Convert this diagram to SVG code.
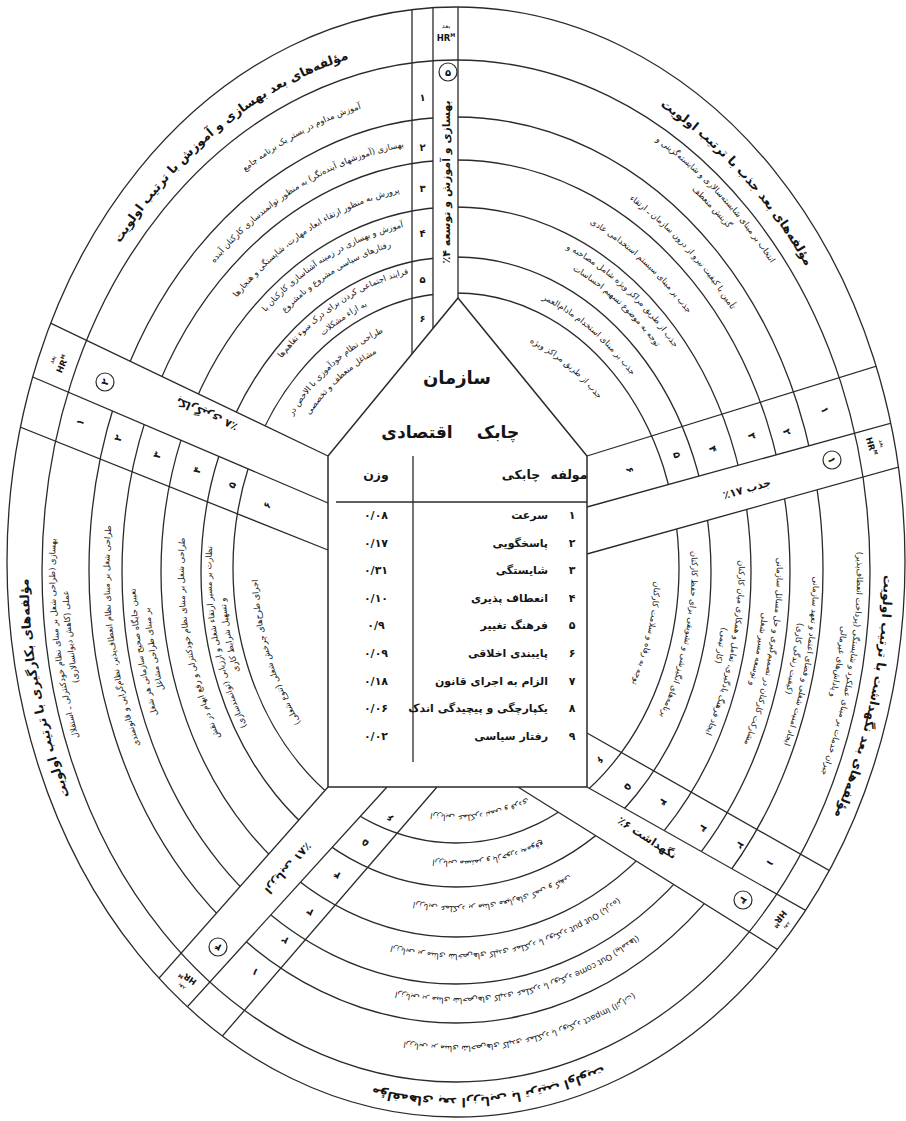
<svg xmlns="http://www.w3.org/2000/svg" width="906" height="1121" viewBox="0 0 906 1121">
<style>
.ring{fill:none;stroke:#2a2a2a;stroke-width:1.3}
.ln{fill:none;stroke:#2a2a2a;stroke-width:1.3}
.wo{fill:#fff;stroke:none}
.fa{font-family:'DejaVu Sans',sans-serif;fill:#151515}
.ttl{font-size:12.5px;font-weight:bold;text-anchor:middle;direction:rtl}
.it{font-size:8.3px;text-anchor:middle;direction:rtl}
.num{font-size:10px;font-weight:bold;text-anchor:middle;dominant-baseline:central}
.dim{font-size:11px;font-weight:bold;text-anchor:middle;dominant-baseline:central;direction:rtl}
.tb{font-size:11px;font-weight:bold}
.cir{fill:#fff;stroke:#2a2a2a;stroke-width:1.2}
.hr1{font-size:6.5px;text-anchor:middle}
.hr2{font-family:'DejaVu Sans',sans-serif;font-size:8.5px;font-weight:bold;text-anchor:middle;fill:#151515}
</style>
<defs>
<clipPath id="clipA"><ellipse cx="456" cy="562" rx="449" ry="555"/></clipPath>
<path id="p528" d="M456,42 A427.68,528 0 1 1 456,1098 A427.68,528 0 1 1 456,42"/>
<path id="p495" d="M456,75 A400.95,495 0 1 1 456,1065 A400.95,495 0 1 1 456,75"/>
<path id="p479" d="M456,91 A387.99,479 0 1 1 456,1049 A387.99,479 0 1 1 456,91"/>
<path id="p476" d="M456,94 A385.56,476 0 1 1 456,1046 A385.56,476 0 1 1 456,94"/>
<path id="p441" d="M456,129 A357.21,441 0 1 1 456,1011 A357.21,441 0 1 1 456,129"/>
<path id="p428" d="M456,142 A346.68,428 0 1 1 456,998 A346.68,428 0 1 1 456,142"/>
<path id="p425" d="M456,145 A344.25,425 0 1 1 456,995 A344.25,425 0 1 1 456,145"/>
<path id="p396" d="M456,174 A320.76,396 0 1 1 456,966 A320.76,396 0 1 1 456,174"/>
<path id="p384" d="M456,186 A311.04,384 0 1 1 456,954 A311.04,384 0 1 1 456,186"/>
<path id="p380" d="M456,190 A307.8,380 0 1 1 456,950 A307.8,380 0 1 1 456,190"/>
<path id="p349" d="M456,221 A282.69,349 0 1 1 456,919 A282.69,349 0 1 1 456,221"/>
<path id="p336" d="M456,234 A272.16,336 0 1 1 456,906 A272.16,336 0 1 1 456,234"/>
<path id="p333" d="M456,237 A269.73,333 0 1 1 456,903 A269.73,333 0 1 1 456,237"/>
<path id="p302" d="M456,268 A244.62,302 0 1 1 456,872 A244.62,302 0 1 1 456,268"/>
<path id="p291" d="M456,279 A235.71,291 0 1 1 456,861 A235.71,291 0 1 1 456,279"/>
<path id="p286" d="M456,284 A231.66,286 0 1 1 456,856 A231.66,286 0 1 1 456,284"/>
<path id="p254" d="M456,316 A205.74,254 0 1 1 456,824 A205.74,254 0 1 1 456,316"/>
<path id="p245" d="M456,325 A198.45,245 0 1 1 456,815 A198.45,245 0 1 1 456,325"/>
<path id="p238" d="M456,332 A192.78,238 0 1 1 456,808 A192.78,238 0 1 1 456,332"/>
</defs>
<rect width="906" height="1121" fill="#fff"/>

<g id="inner-rings">
<ellipse class="ring" cx="456" cy="570" rx="367" ry="453"/>
<ellipse class="ring" cx="456" cy="572" rx="334" ry="412"/>
<ellipse class="ring" cx="456" cy="572" rx="295" ry="365"/>
<ellipse class="ring" cx="456" cy="572" rx="255" ry="315"/>
<ellipse class="ring" cx="456" cy="568" rx="223" ry="275"/>
</g>
<g id="dimension-columns">
<polygon class="wo" points="433,0 458,0 458,298 433,328"/>
<polygon class="wo" points="328,456 0,299 0,363 328,503"/>
<polygon class="wo" points="587,507 906,419 906,465 587,554"/>
<polygon class="wo" points="587,787 906,967 906,1030 518,787"/>
<polygon class="wo" points="328,787 0,1158 0,1213 387,787"/>
</g>
<g id="outer-rings">
<ellipse class="ring" cx="456" cy="562" rx="449" ry="555"/>
<ellipse class="ring" cx="456" cy="571" rx="414" ry="511"/>
</g>
<g id="connectors" clip-path="url(#clipA)">
<line class="ln" x1="412" y1="0" x2="412" y2="354"/>
<line class="ln" x1="433" y1="0" x2="433" y2="328"/>
<line class="ln" x1="458" y1="0" x2="458" y2="298"/>
<line class="ln" x1="328" y1="456" x2="0" y2="299"/>
<line class="ln" x1="328" y1="503" x2="0" y2="363"/>
<line class="ln" x1="328" y1="550" x2="0" y2="419"/>
<line class="ln" x1="587" y1="456" x2="906" y2="357"/>
<line class="ln" x1="587" y1="507" x2="906" y2="419"/>
<line class="ln" x1="587" y1="554" x2="906" y2="465"/>
<line class="ln" x1="587" y1="733" x2="906" y2="914"/>
<line class="ln" x1="587" y1="787" x2="906" y2="967"/>
<line class="ln" x1="518" y1="787" x2="906" y2="1030"/>
<line class="ln" x1="328" y1="787" x2="0" y2="1158"/>
<line class="ln" x1="387" y1="787" x2="0" y2="1213"/>
<line class="ln" x1="437" y1="787" x2="0" y2="1294"/>
</g>

<g id="center-node">
<polygon points="458,298 587,456 587,787 328,787 328,456" fill="#fff" stroke="#2a2a2a" stroke-width="1.5"/>
<line class="ln" x1="336" y1="502" x2="587" y2="502" stroke="#555"/>
<line class="ln" x1="413" y1="456" x2="413" y2="762" stroke="#555"/>
<text class="fa" x="457" y="384" font-size="18" font-weight="bold" text-anchor="middle">سازمان</text>
<text class="fa" x="498" y="438" font-size="17" font-weight="bold" text-anchor="middle">چابک</text>
<text class="fa" x="417" y="438" font-size="17" font-weight="bold" text-anchor="middle">اقتصادی</text>
<text class="fa" x="376" y="479" font-size="12.5" font-weight="bold" text-anchor="middle">وزن</text>
<text class="fa" x="521" y="479" font-size="12.5" font-weight="bold" text-anchor="middle">چابکی</text>
<text class="fa" x="569" y="479" font-size="12.5" font-weight="bold" text-anchor="middle">مولفه</text>
<g class="fa tb">
<text x="572" y="519" text-anchor="middle">۱</text><text x="548" y="519" text-anchor="end">سرعت</text><text x="376" y="519" text-anchor="middle">۰/۰۸</text>
<text x="572" y="546.6" text-anchor="middle">۲</text><text x="548" y="546.6" text-anchor="end">پاسخگویی</text><text x="376" y="546.6" text-anchor="middle">۰/۱۷</text>
<text x="572" y="574.2" text-anchor="middle">۳</text><text x="548" y="574.2" text-anchor="end">شایستگی</text><text x="376" y="574.2" text-anchor="middle">۰/۳۱</text>
<text x="572" y="601.8" text-anchor="middle">۴</text><text x="548" y="601.8" text-anchor="end">انعطاف پذیری</text><text x="376" y="601.8" text-anchor="middle">۰/۱۰</text>
<text x="572" y="629.4" text-anchor="middle">۵</text><text x="548" y="629.4" text-anchor="end">فرهنگ تغییر</text><text x="376" y="629.4" text-anchor="middle">۰/۹</text>
<text x="572" y="657" text-anchor="middle">۶</text><text x="548" y="657" text-anchor="end">پایبندی اخلاقی</text><text x="376" y="657" text-anchor="middle">۰/۰۹</text>
<text x="572" y="684.6" text-anchor="middle">۷</text><text x="548" y="684.6" text-anchor="end">الزام به اجرای قانون</text><text x="376" y="684.6" text-anchor="middle">۰/۱۸</text>
<text x="572" y="712.2" text-anchor="middle">۸</text><text x="548" y="712.2" text-anchor="end">یکپارچگی و پیچیدگی اندک</text><text x="376" y="712.2" text-anchor="middle">۰/۰۶</text>
<text x="572" y="739.8" text-anchor="middle">۹</text><text x="548" y="739.8" text-anchor="end">رفتار سیاسی</text><text x="376" y="739.8" text-anchor="middle">۰/۰۲</text>
</g>
</g>

<g id="dim5-behsazi">
<g transform="translate(446,32)"><text class="fa hr1" y="-4">بعد</text><text class="hr2" y="9">HR<tspan font-size="5" dy="-4">M</tspan></text></g>
<circle class="cir" cx="448" cy="72" r="9"/><text class="fa num" x="448" y="72">۵</text>
<text class="fa dim" transform="translate(446,182) rotate(-90)" font-size="12.5">بهسازی و آموزش و توسعه ۴٪</text>
<g class="fa num"><text x="422.5" y="97">۱</text><text x="422.5" y="147">۲</text><text x="422.5" y="188">۳</text><text x="422.5" y="233">۴</text><text x="422.5" y="279">۵</text><text x="422.5" y="318">۶</text></g>
<text class="fa ttl"><textPath href="#p528" startOffset="91.4%">مؤلفه‌های بعد بهسازی و آموزش با ترتیب اولویت</textPath></text>
<text class="fa it"><textPath href="#p476" startOffset="94%">آموزش مداوم در بستر یک برنامه جامع</textPath></text>
<text class="fa it"><textPath href="#p428" startOffset="93.2%">بهسازی (آموزشهای آینده‌نگر) به منظور توانمندسازی کارکنان آینده</textPath></text>
<text class="fa it"><textPath href="#p384" startOffset="92.9%">پرورش به منظور ارتقاء ابعاد مهارت، شایستگی و هنجارها</textPath></text>
<text class="fa it"><textPath href="#p349" startOffset="93.2%">آموزش و بهسازی در زمینه آشناسازی کارکنان با</textPath></text>
<text class="fa it"><textPath href="#p333" startOffset="93.2%">رفتارهای سیاسی مشروع و نامشروع</textPath></text>
<text class="fa it"><textPath href="#p302" startOffset="92.7%">فرایند اجتماعی کردن برای درک سوء تفاهم‌ها</textPath></text>
<text class="fa it"><textPath href="#p286" startOffset="92.7%">به ازاء مشکلات</textPath></text>
<text class="fa it"><textPath href="#p254" startOffset="90.5%">طراحی نظام خودآموزی با الاخص در</textPath></text>
<text class="fa it"><textPath href="#p238" startOffset="90.5%">مشاغل منعطف و تخصصی</textPath></text>
</g>

<g id="dim1-jazb">
<g transform="translate(876,445) rotate(74)"><text class="fa hr1" y="-4">بعد</text><text class="hr2" y="8">HR<tspan font-size="5" dy="-4">M</tspan></text></g>
<circle class="cir" cx="832" cy="460" r="9"/><text class="fa num" transform="translate(832,460) rotate(74)">۱</text>
<text class="fa dim" transform="translate(747,489) rotate(-16)">جذب ۱۷٪</text>
<g class="fa num"><text transform="translate(825,410) rotate(74)">۱</text><text transform="translate(787,432) rotate(74)">۲</text><text transform="translate(752,436) rotate(74)">۳</text><text transform="translate(713,449) rotate(74)">۴</text><text transform="translate(677,455) rotate(74)">۵</text><text transform="translate(630,470) rotate(74)">۶</text></g>
<text class="fa ttl"><textPath href="#p528" startOffset="10.84%">مؤلفه‌های بعد جذب   با ترتیب اولویت</textPath></text>
<text class="fa it"><textPath href="#p495" startOffset="10.56%">انتخاب بر مبنای شایسته‌سالاری و شایسته‌گزینی و</textPath></text>
<text class="fa it"><textPath href="#p479" startOffset="10.56%">گزینش منعطف</textPath></text>
<text class="fa it"><textPath href="#p428" startOffset="10.7%">تأمین با کیفیت نیرو از درون سازمان ـ ارتقاء</textPath></text>
<text class="fa it"><textPath href="#p384" startOffset="9.48%">جذب بر مبنای سیستم استخدامی عادی</textPath></text>
<text class="fa it"><textPath href="#p349" startOffset="9.48%">جذب از طریق مراکز ویژه شامل مصاحبه و</textPath></text>
<text class="fa it"><textPath href="#p333" startOffset="9.48%">توجه به موضوع تسهیم احساسات</textPath></text>
<text class="fa it"><textPath href="#p291" startOffset="8.94%">جذب بر مبنای استخدام مادام‌العمر</textPath></text>
<text class="fa it"><textPath href="#p245" startOffset="8.67%">جذب از طریق مراکز ویژه</textPath></text>
</g>

<g id="dim3-negahdasht">
<g transform="translate(783,922) rotate(129)"><text class="fa hr1" y="-4">بعد</text><text class="hr2" y="8">HR<tspan font-size="5" dy="-4">M</tspan></text></g>
<circle class="cir" cx="743" cy="900" r="9"/><text class="fa num" transform="translate(743,900) rotate(129)">۳</text>
<text class="fa dim" transform="translate(647,838) rotate(33)">نگهداشت ۶٪</text>
<g class="fa num"><text transform="translate(770,863) rotate(129)">۱</text><text transform="translate(740,845) rotate(129)">۲</text><text transform="translate(703,828) rotate(129)">۳</text><text transform="translate(663,802) rotate(129)">۴</text><text transform="translate(628,787) rotate(129)">۵</text><text transform="translate(600,760) rotate(129)">۶</text></g>
<text class="fa ttl"><textPath href="#p528" startOffset="29.28%">مؤلفه‌های بعد نگهداشت با ترتیب اولویت</textPath></text>
<text class="fa it"><textPath href="#p495" startOffset="28.37%">جبران خدمات بر مبنای عملکرد و شایستگی (پرداخت انعطاف‌پذیر)</textPath></text>
<text class="fa it"><textPath href="#p479" startOffset="28.37%">و پاداش‌های غیرمالی</textPath></text>
<text class="fa it"><textPath href="#p441" startOffset="28.67%">ایجاد امنیت شغلی و فضای اعتماد و تعهد سازمانی</textPath></text>
<text class="fa it"><textPath href="#p425" startOffset="28.67%">(کیفیت زندگی کاری)</textPath></text>
<text class="fa it"><textPath href="#p396" startOffset="28.67%">مشارکت کارکنان در تصمیم‌گیری و حل مسائل سازمانی</textPath></text>
<text class="fa it"><textPath href="#p380" startOffset="28.67%">و توسعه مسیر شغلی</textPath></text>
<text class="fa it"><textPath href="#p349" startOffset="28.98%">ایجاد فرهنگ یادگیری، تعامل و همکاری میان کارکنان</textPath></text>
<text class="fa it"><textPath href="#p333" startOffset="28.98%">(کار تیمی)</textPath></text>
<text class="fa it"><textPath href="#p291" startOffset="28.98%">برنامه‌های انگیزشی و تشویقی برای حفظ کارکنان</textPath></text>
<text class="fa it"><textPath href="#p245" startOffset="29.58%">توجه به رفاه و سلامت کارکنان</textPath></text>
</g>

<g id="dim4-arzyabi">
<g transform="translate(185,982) rotate(215)"><text class="fa hr1" y="-4">بعد</text><text class="hr2" y="8">HR<tspan font-size="5" dy="-4">M</tspan></text></g>
<circle class="cir" cx="218" cy="947" r="9"/><text class="fa num" transform="translate(218,947) rotate(215)">۴</text>
<text class="fa dim" transform="translate(288,868) rotate(131.5)">ارزیابی ۸۱٪</text>
<g class="fa num"><text transform="translate(255,972) rotate(215)">۱</text><text transform="translate(285,940) rotate(215)">۲</text><text transform="translate(310,912) rotate(215)">۳</text><text transform="translate(337,875) rotate(215)">۴</text><text transform="translate(365,843) rotate(215)">۵</text><text transform="translate(390,818) rotate(215)">۶</text></g>
<text class="fa ttl"><textPath href="#p528" startOffset="48.88%">مؤلفه‌های بعد ارزیابی با ترتیب اولویت</textPath></text>
<text class="fa it"><textPath href="#p476" startOffset="47.51%">ارزیابی بر مبنای شاخص‌های کلیدی عملکرد با رویکرد Impact (اثرات)</textPath></text>
<text class="fa it"><textPath href="#p428" startOffset="47.26%">ارزیابی بر مبنای شاخص‌های کلیدی عملکرد با رویکرد Out come (پیامدها)</textPath></text>
<text class="fa it"><textPath href="#p384" startOffset="47.51%">ارزیابی بر مبنای شاخص‌های کلیدی عملکرد با رویکرد Out put (بازده)</textPath></text>
<text class="fa it"><textPath href="#p336" startOffset="48.01%">ارزیابی عملکرد بر مبنای معیارهای کمی و کیفی</textPath></text>
<text class="fa it"><textPath href="#p291" startOffset="48.01%">ارزیابی مستمر و بازخورد به‌موقع</textPath></text>
<text class="fa it"><textPath href="#p245" startOffset="48.26%">ارزیابی عملکرد تیمی و فردی</textPath></text>
</g>

<g id="dim2-bekargiri">
<g transform="translate(58,362) rotate(-66)"><text class="fa hr1" y="-4">بعد</text><text class="hr2" y="8">HR<tspan font-size="5" dy="-4">M</tspan></text></g>
<circle class="cir" cx="105" cy="382" r="9"/><text class="fa num" transform="translate(105,382) rotate(-66)">۲</text>
<text class="fa dim" transform="translate(207,414) rotate(204)">بکارگیری ۸٪</text>
<g class="fa num"><text transform="translate(80,422) rotate(-66)">۱</text><text transform="translate(118,438) rotate(-66)">۲</text><text transform="translate(157,455) rotate(-66)">۳</text><text transform="translate(197,470) rotate(-66)">۴</text><text transform="translate(232,485) rotate(-66)">۵</text><text transform="translate(267,505) rotate(-66)">۶</text></g>
<text class="fa ttl"><textPath href="#p528" startOffset="71.02%">مؤلفه‌های بکارگیری   با ترتیب اولویت</textPath></text>
<text class="fa it"><textPath href="#p495" startOffset="72.55%">بهسازی (طراحی شغل بر مبنای نظام خودکنترلی ـ استقلال</textPath></text>
<text class="fa it"><textPath href="#p479" startOffset="72.55%">عملی (کاهش دیوانسالاری)</textPath></text>
<text class="fa it"><textPath href="#p428" startOffset="72.24%">طراحی شغل بر مبنای نظام انعطاف‌پذیر، نظام‌گرایی و قانونمندی</textPath></text>
<text class="fa it"><textPath href="#p396" startOffset="71.33%">تعیین جایگاه صحیح سازمانی هر شغل</textPath></text>
<text class="fa it"><textPath href="#p380" startOffset="71.33%">بر مبنای طراحی مشاغل</textPath></text>
<text class="fa it"><textPath href="#p336" startOffset="71.33%">طراحی شغل بر مبنای نظام خودکنترلی و رفع ابهام در نقش</textPath></text>
<text class="fa it"><textPath href="#p302" startOffset="71%">نظارت بر مسیر ارتقاء شغلی و ارزیابی (توانمندسازی)</textPath></text>
<text class="fa it"><textPath href="#p286" startOffset="71%">و تسهیل شرایط کاری</textPath></text>
<text class="fa it"><textPath href="#p245" startOffset="68.91%">اجرای طرح‌های چرخش شغلی (تنوع شغلی)</textPath></text>
</g>
</svg>
